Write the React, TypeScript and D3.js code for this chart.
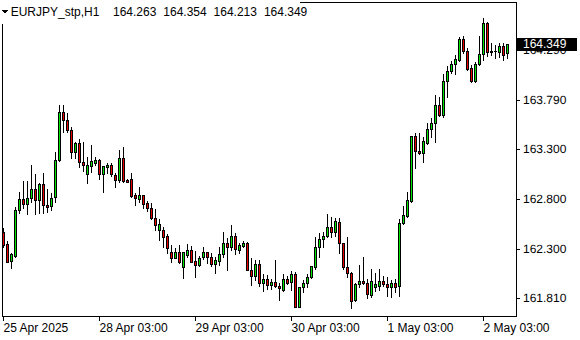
import React from "react";
import * as d3 from "d3";

const symbolTitle = "EURJPY_stp,H1";
const titlePrices = ["164.263", "164.354", "164.213", "164.349"];

const opens = [
  162.473, 162.35, 162.183, 162.23, 162.69, 162.797, 162.747, 162.807, 162.897, 162.787,
  162.947, 162.737, 162.727, 162.817, 163.187, 163.667, 163.587, 163.487, 163.273, 163.357,
  163.167, 163.047, 163.133, 163.16, 163.187, 163.047, 163.117, 163.14, 163.04, 162.99,
  163.207, 162.99, 163.0, 162.84, 162.8, 162.84, 162.763, 162.713, 162.613, 162.487,
  162.49, 162.433, 162.267, 162.213, 162.267, 162.123, 162.24, 162.29, 162.18, 162.14,
  162.223, 162.267, 162.217, 162.147, 162.183, 162.247, 162.357, 162.323, 162.43, 162.29,
  162.333, 162.363, 162.09, 162.03, 162.15, 161.963, 161.997, 161.94, 161.973, 161.93,
  161.89, 162.0, 161.967, 162.05, 161.723, 161.917, 161.957, 162.017, 162.123, 162.323,
  162.403, 162.43, 162.523, 162.473, 162.573, 162.357, 162.123, 162.063, 161.79, 161.95,
  161.983, 161.957, 161.84, 161.917, 161.933, 161.983, 161.95, 161.923, 161.957, 161.93,
  162.557, 162.63, 162.78, 163.43, 163.283, 163.257, 163.363, 163.497, 163.557, 163.74,
  163.64, 163.98, 164.08, 164.147, 164.19, 164.4, 164.28, 164.107, 163.98, 164.15,
  164.25, 164.557, 164.28, 164.276, 164.273, 164.333, 164.263,
];
const highs = [
  162.513, 162.383, 162.26, 162.72, 162.873, 162.98, 162.98, 163.14, 163.047, 162.957,
  163.057, 162.897, 162.857, 163.273, 163.74, 163.74, 163.657, 163.523, 163.373, 163.397,
  163.373, 163.223, 163.34, 163.223, 163.197, 163.13, 163.157, 163.157, 163.057, 163.29,
  163.323, 162.997, 163.063, 162.863, 162.923, 162.84, 162.783, 162.763, 162.7, 162.597,
  162.523, 162.45, 162.34, 162.307, 162.34, 162.267, 162.347, 162.33, 162.28, 162.233,
  162.323, 162.273, 162.263, 162.217, 162.323, 162.467, 162.407, 162.54, 162.457, 162.363,
  162.383, 162.373, 162.207, 162.19, 162.19, 162.05, 162.04, 161.997, 162.19, 161.957,
  162.05, 162.03, 162.083, 162.073, 161.917, 161.99, 162.05, 162.133, 162.417, 162.457,
  162.473, 162.65, 162.617, 162.607, 162.607, 162.363, 162.417, 162.073, 161.957, 162.14,
  162.217, 161.997, 162.097, 162.057, 162.097, 162.03, 162.017, 161.99, 162.003, 162.597,
  162.73, 162.873, 163.43, 163.463, 163.463, 163.423, 163.557, 163.607, 163.84, 163.817,
  164.05, 164.13, 164.183, 164.24, 164.417, 164.433, 164.313, 164.14, 164.173, 164.433,
  164.613, 164.573, 164.357, 164.34, 164.363, 164.363, 164.354,
];
const lows = [
  162.323, 162.173, 162.113, 162.225, 162.657, 162.713, 162.647, 162.773, 162.647, 162.657,
  162.657, 162.673, 162.69, 162.773, 163.18, 163.467, 163.473, 163.213, 163.213, 163.123,
  163.08, 162.957, 163.067, 163.14, 162.997, 162.873, 163.057, 163.03, 162.923, 162.973,
  162.967, 162.967, 162.823, 162.74, 162.773, 162.707, 162.683, 162.597, 162.49, 162.39,
  162.323, 162.257, 162.173, 162.207, 162.157, 162.007, 162.223, 162.17, 162.023, 162.133,
  162.2, 162.157, 162.133, 162.063, 162.14, 162.223, 162.09, 162.29, 162.25, 162.263,
  162.323, 162.087, 161.94, 161.99, 161.93, 161.883, 161.897, 161.897, 161.917, 161.79,
  161.883, 161.95, 161.89, 161.717, 161.72, 161.87, 161.923, 162.007, 162.097, 162.223,
  162.323, 162.417, 162.423, 162.43, 162.257, 162.097, 162.017, 161.707, 161.783, 161.923,
  161.95, 161.807, 161.823, 161.883, 161.89, 161.93, 161.83, 161.817, 161.873, 161.83,
  162.55, 162.623, 162.773, 163.107, 163.25, 163.173, 163.35, 163.423, 163.373, 163.63,
  163.623, 163.823, 164.057, 164.05, 164.183, 164.263, 164.09, 163.973, 163.973, 164.14,
  164.19, 164.233, 164.24, 164.207, 164.223, 164.19, 164.213,
];
const closes = [
  162.34, 162.173, 162.247, 162.69, 162.797, 162.747, 162.807, 162.897, 162.787, 162.947,
  162.737, 162.72, 162.807, 163.19, 163.667, 163.587, 163.487, 163.273, 163.357, 163.173,
  163.14, 163.14, 163.18, 163.187, 163.047, 163.13, 163.14, 163.047, 162.99, 163.207,
  162.983, 162.973, 162.833, 162.807, 162.84, 162.75, 162.707, 162.607, 162.54, 162.547,
  162.423, 162.307, 162.213, 162.267, 162.167, 162.267, 162.29, 162.173, 162.14, 162.213,
  162.267, 162.217, 162.147, 162.19, 162.25, 162.357, 162.323, 162.43, 162.297, 162.34,
  162.363, 162.09, 162.03, 162.15, 161.963, 161.997, 161.94, 161.973, 161.933, 161.907,
  162.0, 161.963, 162.05, 161.723, 161.917, 161.957, 162.017, 162.133, 162.323, 162.397,
  162.43, 162.523, 162.473, 162.583, 162.363, 162.123, 162.063, 161.783, 161.95, 161.983,
  161.963, 161.847, 161.983, 161.95, 161.983, 161.95, 161.923, 161.957, 161.923, 162.557,
  162.64, 162.79, 163.43, 163.283, 163.257, 163.38, 163.497, 163.557, 163.74, 163.64,
  163.98, 164.08, 164.15, 164.197, 164.4, 164.283, 164.1, 163.98, 164.15, 164.25,
  164.557, 164.267, 164.267, 164.28, 164.333, 164.24, 164.349,
];

const priceTicks = [164.29, 163.79, 163.3, 162.8, 162.3, 161.81];
const timeTickBars = [0, 24, 48, 72, 96, 120];
const timeTickLabels = ["25 Apr 2025", "28 Apr 03:00", "29 Apr 03:00", "30 Apr 03:00", "1 May 03:00", "2 May 03:00"];

const W = 580;
const H = 340;
const FONT = "'Liberation Sans', Arial, sans-serif";
const UP = "#00e600";
const DOWN = "#e60000";

export default function App() {
  const n = opens.length;
  const x = d3.scaleLinear().domain([0, n - 1]).range([3, 3 + 4 * (n - 1)]);
  const y = d3.scaleLinear().domain([161.63, 164.77]).range([316, 2]);
  const py = (v: number) => Math.round(y(v));

  const candles = d3.range(n).map((i) => {
    const c = Math.round(x(i));
    const o = opens[i], cl = closes[i];
    const yo = py(o), yc = py(cl), yh = py(highs[i]), yl = py(lows[i]);
    const top = Math.min(yo, yc), bot = Math.max(yo, yc);
    const up = cl >= o;
    return (
      <g key={i}>
        <line x1={c + 0.5} x2={c + 0.5} y1={yh} y2={yl + 1} stroke="#000" strokeWidth={1} />
        {bot - top >= 1 ? (
          <rect x={c - 0.5} y={top + 0.5} width={2} height={bot - top} fill={up ? UP : DOWN} stroke="#000" strokeWidth={1} />
        ) : (
          <line x1={c - 1} x2={c + 2} y1={top + 0.5} y2={top + 0.5} stroke="#000" strokeWidth={1} />
        )}
      </g>
    );
  });

  const last = closes[n - 1];
  const yLast = y(last);

  return (
    <svg width={W} height={H} style={{ position: "fixed", left: 0, top: 0, background: "#fff" }} shapeRendering="crispEdges">
      <rect x={0} y={0} width={W} height={H} fill="#fff" />
      <rect x={2.5} y={2.5} width={514} height={314} fill="none" stroke="#000" strokeWidth={1} />
      <rect x={0} y={0} width={300} height={24} fill="#fff" />
      {candles}
      {priceTicks.map((p, i) => (
        <g key={"pt" + i}>
          <line x1={517} x2={520} y1={py(p) + 0.5} y2={py(p) + 0.5} stroke="#000" />
          <text x={523} y={y(p) + 4.3} fontFamily={FONT} fontSize={12} fill="#000" textRendering="geometricPrecision">
            {p.toFixed(3)}
          </text>
        </g>
      ))}
      <rect x={517} y={Math.round(yLast) - 6} width={60} height={13} fill="#000" />
      <text x={523} y={yLast + 4.3} fontFamily={FONT} fontSize={12} fill="#fff">
        {last.toFixed(3)}
      </text>
      {timeTickBars.map((b, i) => {
        const tx = Math.round(x(b)) + 0.5;
        return (
          <g key={"tt" + i}>
            <line x1={tx} x2={tx} y1={317} y2={321} stroke="#000" />
            <text x={tx} y={331.5} fontFamily={FONT} fontSize={12} fill="#000">
              {timeTickLabels[i]}
            </text>
          </g>
        );
      })}
      <polygon points="2,10 8,10 5,14" fill="#000" />
      <text x={10.7} y={16} fontFamily={FONT} fontSize={12} fill="#000">
        {symbolTitle}
      </text>
      {titlePrices.map((t, i) => (
        <text key={"tp" + i} x={113 + i * 50.3} y={16} fontFamily={FONT} fontSize={12} fill="#000">
          {t}
        </text>
      ))}
    </svg>
  );
}
